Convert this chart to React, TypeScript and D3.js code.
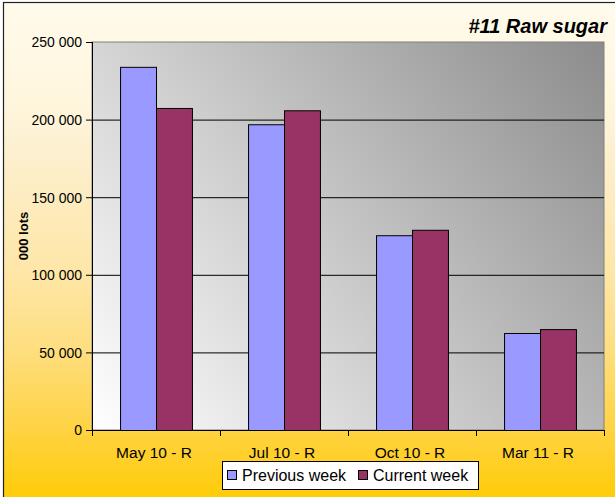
import * as d3 from "d3";

const categories = ["May 10 - R", "Jul 10 - R", "Oct 10 - R", "Mar 11 - R"];
const seriesNames = ["Previous week", "Current week"];
const previousWeek = [234000, 197000, 125500, 62500];
const currentWeek = [207500, 206000, 129000, 65000];
const yTicks = [0, 50000, 100000, 150000, 200000, 250000];

const colors = ["#9999ff", "#993366"];
const font = "'Liberation Sans', Arial, sans-serif";

const fmt = d3.formatLocale({ decimal: ".", thousands: " ", grouping: [3], currency: ["", ""] }).format(",");

const App = () => {
  const width = 615;
  const height = 497;
  const marginLeft = 92;
  const marginRight = 11;
  const marginTop = 42;
  const marginBottom = 67;

  const x0 = d3.scaleBand()
    .domain(categories)
    .range([marginLeft, width - marginRight]);

  const x1 = d3.scaleBand()
    .domain(seriesNames)
    .range([0, x0.bandwidth()])
    .paddingOuter(0.78);

  const y = d3.scaleLinear()
    .domain([0, 250000])
    .range([height - marginBottom, marginTop]);

  const rows = categories.map((c, i) => ({ cat: c, values: [previousWeek[i], currentWeek[i]] }));
  const plotW = width - marginLeft - marginRight;
  const plotH = y(0) - y(250000);

  // legend box
  const legX = 222, legY = 461;

  return (
    <svg width={width} height={height} style={{ position: "absolute", left: 0, top: 0 }} fontFamily={font}>
      <defs>
        <linearGradient id="outerBg" gradientUnits="userSpaceOnUse" x1="0" y1="2" x2="0" y2="497">
          <stop offset="0" stopColor="#fffbeb" />
          <stop offset="0.2" stopColor="#fff6de" />
          <stop offset="0.3" stopColor="#fdf0d0" />
          <stop offset="0.55" stopColor="#fee6a6" />
          <stop offset="0.7" stopColor="#fede80" />
          <stop offset="0.86" stopColor="#ffd344" />
          <stop offset="1" stopColor="#ffcc08" />
        </linearGradient>
        <linearGradient id="plotBg" gradientUnits="userSpaceOnUse"
          x1={marginLeft} y1={y(0)} x2={width - marginRight} y2={y(250000)}>
          <stop offset="0" stopColor="#ffffff" />
          <stop offset="1" stopColor="#8c8c8c" />
        </linearGradient>
      </defs>

      <rect x={3.5} y={2.5} width={700} height={600} fill="url(#outerBg)" stroke="#222" strokeWidth={1.2} />

      <text x={607} y={33} textAnchor="end" fontSize={20} fontWeight="bold" fontStyle="italic">#11 Raw sugar</text>

      {/* plot area */}
      <rect x={marginLeft} y={y(250000)} width={plotW} height={plotH} fill="url(#plotBg)" stroke="#808080" strokeWidth={1} />

      {/* gridlines */}
      {yTicks.filter(t => t > 0 && t < 250000).map(t => (
        <line key={t} x1={marginLeft} x2={width - marginRight} y1={y(t) + 0.5} y2={y(t) + 0.5} stroke="#000" strokeWidth={1} />
      ))}

      {/* bars */}
      {rows.map(r => (
        <g key={r.cat} transform={`translate(${x0(r.cat)},0)`}>
          {r.values.map((v, j) => (
            <rect key={j} x={x1(seriesNames[j])! + 0.5} y={y(v) + 0.5} width={x1.bandwidth()} height={y(0) - y(v)}
              fill={colors[j]} stroke="#000" strokeWidth={1} />
          ))}
        </g>
      ))}

      {/* y axis */}
      <line x1={marginLeft + 0.5} x2={marginLeft + 0.5} y1={y(250000)} y2={y(0)} stroke="#000" />
      {yTicks.map(t => (
        <g key={t} transform={`translate(0,${y(t) + 0.5})`}>
          <line x1={marginLeft - 6} x2={marginLeft} stroke="#000" />
          <text x={marginLeft - 10} dy="0.35em" textAnchor="end" fontSize={14}>{fmt(t)}</text>
        </g>
      ))}
      <text transform={`translate(23,${(y(0) + y(250000)) / 2}) rotate(-90)`} textAnchor="middle" dy="0.35em"
        fontSize={13} fontWeight="bold">000 lots</text>

      {/* x axis */}
      <line x1={marginLeft} x2={width - marginRight} y1={y(0) + 0.5} y2={y(0) + 0.5} stroke="#000" />
      {[...categories.map(c => x0(c)!), width - marginRight].map((px, i) => (
        <line key={i} x1={px + 0.5} x2={px + 0.5} y1={y(0)} y2={y(0) + 6} stroke="#000" />
      ))}
      {categories.map(c => (
        <text key={c} x={x0(c)! + x0.bandwidth() / 2 - 2} y={458} textAnchor="middle" fontSize={15.5}>{c}</text>
      ))}

      {/* legend */}
      <rect x={legX + 0.5} y={legY + 0.5} width={256} height={28} fill="#fff" stroke="#000" />
      {seriesNames.map((s, j) => {
        const off = j === 0 ? 5 : 136;
        return (
          <g key={s} transform={`translate(${legX + off},${legY})`}>
            <rect x={0.5} y={9.5} width={9} height={9} fill={colors[j]} stroke="#000" />
            <text x={15} y={20} fontSize={16}>{s}</text>
          </g>
        );
      })}
    </svg>
  );
};

export default App;
